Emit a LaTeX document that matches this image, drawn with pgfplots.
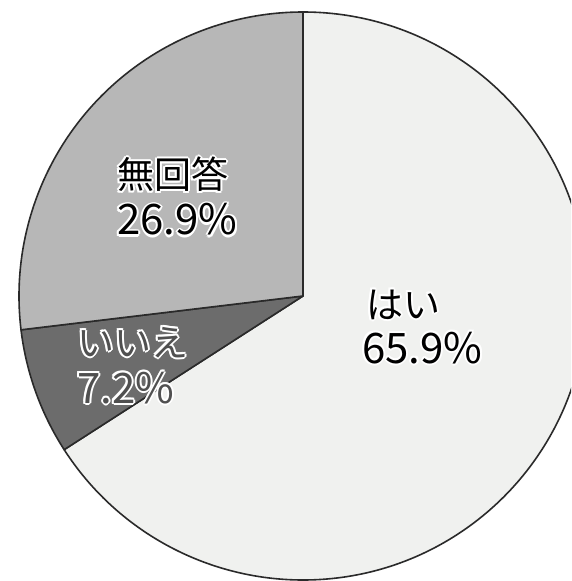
\documentclass[border=0pt]{standalone}
\usepackage{fontspec}
\setmainfont{Noto Sans CJK JP}
\usepackage{pgfplots}
\pgfplotsset{compat=1.18}
\definecolor{haiC}{HTML}{F0F1EF}
\definecolor{iieC}{HTML}{6C6C6C}
\definecolor{muC}{HTML}{B7B7B7}
\definecolor{edgeC}{HTML}{2A2A2A}
\definecolor{iieT}{HTML}{505050}
% data (percent)
\def\pHai{65.9}
\def\pIie{7.2}
\def\pMu{26.9}
\pgfmathsetmacro\aA{90-\pHai*3.6}
\pgfmathsetmacro\aB{\aA-\pIie*3.6}
\pgfmathsetmacro\aC{\aB-\pMu*3.6}
\def\R{284}
\newcommand\halo[5]{%
  \foreach \dx/\dy in {2/0,-2/0,0/2,0/-2,1.4/1.4,-1.4/1.4,1.4/-1.4,-1.4/-1.4,1/0,-1/0,0/1,0/-1}{%
    \node[white,anchor=base west,inner sep=0pt,font=\fontsize{#5}{#5}\selectfont] at (#1pt+\dx pt,#2pt+\dy pt) {#3};}
  \node[#4,anchor=base west,inner sep=0pt,font=\fontsize{#5}{#5}\selectfont] at (#1pt,#2pt) {#3};}
\begin{document}
\begin{tikzpicture}
\path[use as bounding box, clip] (-303pt,-285pt) rectangle (268pt,296pt);
\begin{axis}[x=1pt,y=1pt,anchor=origin,at={(0pt,0pt)},hide axis,
  xmin=-303,xmax=268,ymin=-285,ymax=296,clip=false]
\fill[haiC, draw=edgeC, line width=1.6pt, line join=round] (axis cs:0,0) -- (axis cs:0,\R) arc[start angle=90, end angle=\aA, radius=\R pt] -- cycle;
\fill[iieC, draw=edgeC, line width=1.6pt, line join=round] (axis cs:0,0) -- ({axis cs:{\R*cos(\aA)},{\R*sin(\aA)}}) arc[start angle=\aA, end angle=\aB, radius=\R pt] -- cycle;
\fill[muC, draw=edgeC, line width=1.6pt, line join=round] (axis cs:0,0) -- ({axis cs:{\R*cos(\aB)},{\R*sin(\aB)}}) arc[start angle=\aB, end angle=\aC, radius=\R pt] -- cycle;
\end{axis}
\halo{-186}{107}{無回答}{black}{37}
\halo{-186}{61}{26.9\%}{black}{42}
\halo{63}{-22}{はい}{black}{37}
\halo{59}{-67}{65.9\%}{black}{42}
\halo{-226}{-60}{いいえ}{iieT}{37}
\halo{-226}{-107}{7.2\%}{iieT}{42}
\end{tikzpicture}
\end{document}
